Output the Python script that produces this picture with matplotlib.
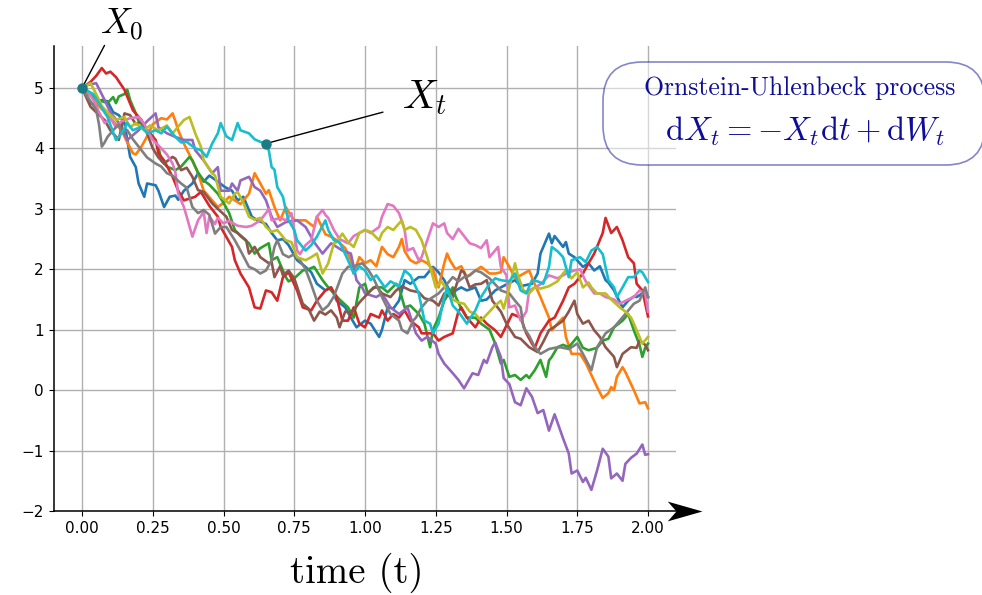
import matplotlib
matplotlib.use("Agg")
import matplotlib.pyplot as plt
from matplotlib.path import Path
from matplotlib.patches import FancyBboxPatch

plt.rcParams['mathtext.fontset'] = 'cm'

# ten sample paths (time, value)
blue_t = [0, 0.03, 0.05, 0.07, 0.09, 0.11, 0.13, 0.15, 0.17, 0.19, 0.20, 0.22, 0.23, 0.26, 0.27, 0.29, 0.31, 0.33, 0.34, 0.36, 0.39, 0.41, 0.43, 0.45, 0.48, 0.505, 0.53, 0.55, 0.57, 0.60, 0.62, 0.65, 0.67, 0.69, 0.71, 0.73, 0.76, 0.79, 0.81, 0.83, 0.86, 0.88, 0.90, 0.93, 0.95, 0.97, 1.0, 1.02, 1.05, 1.06, 1.08, 1.10, 1.12, 1.14, 1.16, 1.19, 1.21, 1.24, 1.26, 1.28, 1.31, 1.32, 1.34, 1.36, 1.39, 1.41, 1.43, 1.46, 1.48, 1.50, 1.53, 1.55, 1.59, 1.61, 1.62, 1.64, 1.65, 1.66, 1.67, 1.70, 1.71, 1.72, 1.74, 1.77, 1.79, 1.81, 1.83, 1.85, 1.86, 1.88, 1.89, 1.91, 1.93, 1.95, 1.96, 1.98, 2.0]
blue_x = [5.0, 4.75, 4.7, 4.8, 4.78, 4.6, 4.55, 4.42, 3.86, 3.69, 3.42, 3.2, 3.42, 3.39, 3.3, 3.03, 3.2, 3.22, 3.15, 3.3, 3.42, 3.59, 3.45, 3.55, 3.45, 3.36, 3.3, 3.14, 3.2, 2.87, 2.81, 2.75, 2.6, 2.48, 2.5, 2.4, 2.15, 2.04, 1.95, 1.76, 1.65, 1.7, 1.48, 1.37, 1.2, 1.04, 1.15, 1.1, 0.88, 1.0, 1.37, 1.35, 1.48, 1.82, 1.76, 1.87, 1.87, 2.04, 1.95, 1.82, 1.54, 1.65, 1.7, 1.65, 1.7, 1.48, 1.5, 1.65, 1.7, 1.75, 1.82, 1.72, 1.76, 1.93, 2.26, 2.48, 2.59, 2.43, 2.55, 2.37, 2.45, 2.26, 2.2, 2.04, 2.1, 1.98, 2.05, 1.82, 1.78, 1.65, 1.55, 1.37, 1.48, 1.55, 1.54, 1.6, 1.54]

orange_t = [0, 0.02, 0.04, 0.06, 0.08, 0.10, 0.12, 0.14, 0.16, 0.18, 0.19, 0.21, 0.23, 0.25, 0.28, 0.30, 0.32, 0.33, 0.34, 0.36, 0.39, 0.41, 0.43, 0.46, 0.48, 0.50, 0.52, 0.54, 0.56, 0.59, 0.61, 0.63, 0.65, 0.66, 0.68, 0.70, 0.72, 0.73, 0.75, 0.79, 0.82, 0.83, 0.86, 0.88, 0.90, 0.93, 0.95, 0.96, 0.98, 1.0, 1.02, 1.04, 1.06, 1.08, 1.10, 1.12, 1.13, 1.14, 1.16, 1.18, 1.20, 1.22, 1.24, 1.26, 1.28, 1.29, 1.30, 1.32, 1.34, 1.36, 1.39, 1.41, 1.44, 1.46, 1.48, 1.49, 1.51, 1.53, 1.55, 1.58, 1.60, 1.62, 1.65, 1.66, 1.68, 1.70, 1.71, 1.73, 1.76, 1.78, 1.80, 1.82, 1.84, 1.86, 1.87, 1.88, 1.89, 1.91, 1.92, 1.95, 1.97, 1.99, 2.0]
orange_x = [5.0, 4.9, 4.85, 4.7, 4.6, 4.5, 4.4, 4.3, 4.1, 3.92, 3.9, 4.03, 4.2, 4.4, 4.5, 4.48, 4.58, 4.45, 4.3, 4.08, 3.8, 3.59, 3.3, 3.14, 3.03, 3.1, 3.2, 3.14, 3.08, 3.25, 3.59, 3.42, 3.25, 3.31, 3.03, 2.81, 3.03, 2.95, 2.81, 2.81, 2.7, 2.87, 2.58, 2.54, 2.48, 2.35, 2.15, 1.93, 2.2, 2.1, 2.15, 2.05, 2.37, 2.25, 2.2, 2.37, 2.5, 2.3, 2.15, 2.1, 2.15, 2.1, 2.0, 1.7, 2.1, 2.26, 2.15, 2.0, 2.05, 1.87, 1.98, 2.04, 1.93, 1.93, 1.95, 2.2, 2.04, 1.85, 1.9, 1.98, 1.75, 1.54, 1.2, 0.99, 1.1, 1.2, 0.88, 0.6, 0.6, 0.45, 0.25, 0.05, -0.13, -0.05, 0.05, 0.0, 0.22, 0.38, 0.3, 0.0, -0.22, -0.2, -0.3]

green_t = [0, 0.02, 0.04, 0.06, 0.09, 0.11, 0.12, 0.13, 0.15, 0.16, 0.17, 0.19, 0.20, 0.22, 0.25, 0.27, 0.28, 0.30, 0.33, 0.35, 0.38, 0.39, 0.41, 0.43, 0.45, 0.48, 0.50, 0.52, 0.54, 0.56, 0.59, 0.61, 0.63, 0.66, 0.67, 0.69, 0.72, 0.73, 0.75, 0.78, 0.80, 0.82, 0.85, 0.87, 0.89, 0.91, 0.94, 0.96, 0.98, 1.0, 1.01, 1.03, 1.06, 1.08, 1.11, 1.12, 1.14, 1.16, 1.19, 1.21, 1.23, 1.24, 1.26, 1.28, 1.31, 1.32, 1.34, 1.36, 1.39, 1.41, 1.44, 1.46, 1.48, 1.49, 1.51, 1.53, 1.55, 1.57, 1.58, 1.60, 1.62, 1.64, 1.65, 1.66, 1.68, 1.70, 1.72, 1.75, 1.77, 1.79, 1.82, 1.84, 1.86, 1.88, 1.91, 1.93, 1.95, 1.97, 1.98, 1.99, 2.0]
green_x = [5.0, 4.95, 4.85, 4.8, 4.75, 4.85, 4.75, 4.86, 4.9, 4.97, 4.8, 4.58, 4.45, 4.36, 4.2, 4.03, 3.8, 3.7, 3.64, 3.7, 3.86, 3.8, 3.6, 3.47, 3.4, 3.25, 3.1, 2.93, 2.65, 2.55, 2.43, 2.26, 2.35, 2.43, 2.15, 2.2, 1.87, 1.8, 1.85, 1.98, 2.0, 2.04, 1.82, 1.7, 1.6, 1.5, 1.37, 1.2, 1.7, 1.76, 1.6, 1.7, 1.7, 1.62, 1.76, 1.7, 1.37, 1.4, 1.26, 1.1, 0.71, 1.0, 1.2, 1.48, 1.7, 1.55, 1.35, 1.2, 1.2, 1.1, 1.0, 0.77, 0.44, 0.5, 0.22, 0.25, 0.17, 0.25, 0.2, 0.33, 0.5, 0.22, 0.49, 0.55, 0.71, 0.75, 0.71, 0.88, 0.7, 0.66, 0.7, 0.82, 0.85, 1.04, 1.15, 1.26, 0.99, 0.75, 0.55, 0.7, 0.77]

red_t = [0, 0.03, 0.05, 0.07, 0.085, 0.10, 0.12, 0.15, 0.18, 0.21, 0.23, 0.26, 0.27, 0.29, 0.32, 0.34, 0.36, 0.40, 0.42, 0.45, 0.48, 0.49, 0.53, 0.54, 0.56, 0.59, 0.61, 0.63, 0.65, 0.67, 0.69, 0.71, 0.73, 0.76, 0.78, 0.81, 0.83, 0.86, 0.88, 0.90, 0.92, 0.94, 0.96, 0.98, 1.0, 1.02, 1.05, 1.06, 1.08, 1.10, 1.12, 1.14, 1.16, 1.19, 1.20, 1.24, 1.26, 1.28, 1.31, 1.33, 1.34, 1.36, 1.39, 1.41, 1.43, 1.46, 1.48, 1.52, 1.55, 1.57, 1.59, 1.60, 1.62, 1.65, 1.67, 1.70, 1.72, 1.74, 1.77, 1.79, 1.81, 1.84, 1.85, 1.87, 1.89, 1.91, 1.93, 1.95, 1.96, 1.98, 2.0]
red_x = [5.0, 5.1, 5.2, 5.33, 5.24, 5.27, 5.18, 4.97, 4.63, 4.47, 4.3, 4.14, 3.92, 3.8, 3.53, 3.3, 3.14, 3.2, 3.28, 3.05, 2.87, 2.7, 2.37, 2.15, 1.93, 1.7, 1.37, 1.35, 1.65, 1.62, 1.48, 1.87, 1.95, 1.65, 1.37, 1.32, 1.48, 1.65, 1.7, 1.54, 1.15, 1.15, 1.37, 1.1, 1.04, 1.26, 1.2, 1.32, 1.15, 1.26, 1.2, 1.32, 1.15, 1.04, 0.94, 0.94, 0.82, 0.88, 0.94, 1.3, 1.37, 1.2, 1.04, 1.2, 1.1, 0.99, 0.88, 1.26, 1.2, 0.94, 0.77, 0.7, 0.94, 1.15, 1.2, 1.48, 1.7, 1.76, 1.93, 2.1, 2.26, 2.6, 2.85, 2.6, 2.7, 2.48, 2.2, 2.1, 1.76, 1.65, 1.22]

purple_t = [0, 0.02, 0.05, 0.08, 0.10, 0.13, 0.16, 0.20, 0.23, 0.26, 0.27, 0.30, 0.33, 0.36, 0.39, 0.40, 0.43, 0.46, 0.48, 0.49, 0.52, 0.53, 0.55, 0.56, 0.59, 0.61, 0.63, 0.65, 0.67, 0.69, 0.72, 0.76, 0.79, 0.82, 0.85, 0.88, 0.92, 0.95, 0.97, 0.99, 1.0, 1.04, 1.06, 1.09, 1.12, 1.15, 1.18, 1.20, 1.22, 1.25, 1.26, 1.28, 1.31, 1.33, 1.35, 1.38, 1.40, 1.42, 1.43, 1.45, 1.46, 1.48, 1.49, 1.51, 1.53, 1.55, 1.57, 1.59, 1.61, 1.63, 1.65, 1.67, 1.70, 1.72, 1.73, 1.75, 1.77, 1.78, 1.80, 1.82, 1.84, 1.86, 1.87, 1.89, 1.91, 1.92, 1.94, 1.96, 1.98, 1.99, 2.0]
purple_x = [5.0, 5.05, 5.08, 4.8, 4.6, 4.42, 4.14, 4.3, 4.45, 4.58, 4.35, 4.25, 4.19, 4.14, 4.14, 3.97, 3.8, 3.59, 3.69, 3.3, 3.3, 3.42, 3.3, 3.47, 3.53, 3.36, 3.3, 3.14, 2.87, 2.7, 2.78, 2.81, 2.7, 2.45, 2.26, 2.43, 2.31, 2.26, 1.82, 1.7, 1.6, 1.54, 1.6, 1.37, 1.26, 1.37, 0.94, 0.82, 0.88, 0.77, 0.6, 0.44, 0.28, 0.17, 0.03, 0.28, 0.25, 0.5, 0.45, 0.71, 0.79, 0.55, 0.2, 0.1, -0.2, -0.25, 0.03, -0.11, -0.38, -0.33, -0.67, -0.4, -0.8, -1.05, -1.38, -1.33, -1.52, -1.45, -1.65, -1.33, -0.97, -1.1, -1.46, -1.38, -1.5, -1.22, -1.12, -1.05, -0.9, -1.07, -1.06]

brown_t = [0, 0.03, 0.05, 0.08, 0.10, 0.13, 0.15, 0.17, 0.19, 0.21, 0.23, 0.25, 0.27, 0.29, 0.32, 0.33, 0.35, 0.37, 0.39, 0.41, 0.43, 0.46, 0.48, 0.51, 0.53, 0.55, 0.58, 0.59, 0.61, 0.63, 0.66, 0.67, 0.68, 0.70, 0.71, 0.73, 0.75, 0.78, 0.80, 0.82, 0.84, 0.86, 0.88, 0.90, 0.91, 0.93, 0.95, 0.96, 0.98, 1.0, 1.02, 1.04, 1.06, 1.09, 1.11, 1.13, 1.16, 1.19, 1.21, 1.24, 1.26, 1.28, 1.30, 1.32, 1.34, 1.35, 1.37, 1.39, 1.41, 1.43, 1.45, 1.48, 1.50, 1.53, 1.55, 1.58, 1.61, 1.63, 1.65, 1.67, 1.70, 1.72, 1.74, 1.75, 1.77, 1.79, 1.81, 1.83, 1.85, 1.88, 1.89, 1.91, 1.94, 1.96, 1.97, 1.99, 2.0]
brown_x = [5.0, 4.69, 4.6, 4.47, 4.3, 4.14, 4.58, 4.55, 4.4, 4.45, 4.25, 4.0, 3.85, 3.75, 3.86, 3.83, 3.64, 3.68, 3.53, 3.31, 3.28, 3.09, 3.0, 2.87, 2.65, 2.6, 2.48, 2.26, 2.37, 2.2, 2.1, 2.12, 1.87, 2.05, 1.9, 1.98, 1.85, 1.43, 1.35, 1.15, 1.3, 1.25, 1.32, 1.2, 1.04, 1.3, 1.28, 1.32, 1.45, 1.55, 1.65, 1.72, 1.6, 1.54, 1.65, 1.72, 1.65, 1.62, 1.52, 1.48, 1.4, 1.6, 1.55, 1.7, 1.98, 1.95, 1.7, 1.75, 1.76, 1.82, 1.48, 1.3, 1.1, 0.88, 0.85, 0.71, 0.63, 0.8, 0.99, 1.05, 1.15, 1.3, 1.48, 1.26, 1.1, 1.15, 0.99, 0.88, 0.71, 0.55, 0.38, 0.6, 0.71, 0.7, 0.82, 0.75, 0.66]

pink_t = [0, 0.02, 0.04, 0.06, 0.08, 0.10, 0.12, 0.14, 0.17, 0.20, 0.22, 0.25, 0.27, 0.30, 0.32, 0.33, 0.34, 0.36, 0.37, 0.39, 0.41, 0.43, 0.44, 0.45, 0.47, 0.48, 0.50, 0.52, 0.55, 0.58, 0.60, 0.63, 0.65, 0.66, 0.67, 0.70, 0.72, 0.74, 0.76, 0.77, 0.79, 0.81, 0.83, 0.85, 0.86, 0.87, 0.89, 0.91, 0.94, 0.96, 0.98, 1.0, 1.02, 1.05, 1.06, 1.08, 1.10, 1.12, 1.13, 1.14, 1.15, 1.17, 1.19, 1.20, 1.22, 1.24, 1.26, 1.28, 1.29, 1.31, 1.33, 1.35, 1.37, 1.39, 1.41, 1.43, 1.44, 1.47, 1.48, 1.50, 1.51, 1.53, 1.55, 1.57, 1.58, 1.60, 1.62, 1.65, 1.68, 1.70, 1.72, 1.74, 1.76, 1.78, 1.81, 1.83, 1.85, 1.88, 1.90, 1.93, 1.95, 1.97, 1.99, 2.0]
pink_x = [5.0, 4.95, 4.8, 4.6, 4.42, 4.5, 4.35, 4.45, 4.5, 4.52, 4.4, 4.14, 4.05, 3.9, 3.75, 3.6, 3.25, 3.03, 2.87, 2.54, 2.81, 2.95, 2.6, 2.87, 2.75, 2.85, 2.76, 2.8, 2.72, 2.7, 2.72, 2.81, 2.93, 3.0, 2.81, 2.85, 2.81, 2.93, 2.31, 2.25, 2.4, 2.48, 2.87, 2.98, 2.9, 2.85, 2.65, 2.5, 2.43, 2.55, 2.6, 2.65, 2.6, 2.7, 2.87, 3.08, 3.05, 2.93, 2.8, 2.65, 2.31, 2.35, 2.15, 2.2, 2.48, 2.76, 2.7, 2.76, 2.6, 2.5, 2.67, 2.55, 2.43, 2.4, 2.35, 2.48, 2.2, 2.37, 2.04, 1.9, 1.37, 1.4, 1.15, 1.3, 1.65, 1.7, 1.75, 1.9, 1.85, 1.9, 1.95, 1.98, 2.0, 1.8, 1.6, 1.6, 1.54, 1.5, 1.43, 1.5, 1.54, 1.65, 1.6, 1.3]

gray_t = [0, 0.02, 0.05, 0.06, 0.07, 0.08, 0.09, 0.11, 0.13, 0.14, 0.16, 0.18, 0.21, 0.23, 0.26, 0.28, 0.30, 0.32, 0.35, 0.37, 0.39, 0.41, 0.43, 0.45, 0.47, 0.49, 0.51, 0.54, 0.56, 0.59, 0.61, 0.63, 0.65, 0.67, 0.68, 0.69, 0.71, 0.73, 0.75, 0.77, 0.79, 0.81, 0.83, 0.85, 0.87, 0.89, 0.92, 0.94, 0.96, 0.99, 1.01, 1.03, 1.04, 1.06, 1.08, 1.09, 1.12, 1.13, 1.15, 1.17, 1.18, 1.20, 1.22, 1.24, 1.26, 1.28, 1.31, 1.33, 1.35, 1.37, 1.39, 1.41, 1.44, 1.46, 1.48, 1.51, 1.53, 1.55, 1.56, 1.58, 1.60, 1.62, 1.65, 1.67, 1.69, 1.72, 1.75, 1.77, 1.80, 1.82, 1.85, 1.88, 1.90, 1.92, 1.95, 1.97, 1.99, 2.0]
gray_x = [5.0, 4.85, 4.64, 4.4, 4.03, 4.1, 4.19, 4.3, 4.4, 4.25, 4.3, 4.15, 3.97, 3.85, 3.75, 3.7, 3.59, 3.55, 3.42, 3.35, 3.03, 2.93, 2.98, 2.9, 2.59, 2.7, 2.7, 2.48, 2.31, 2.04, 2.0, 1.93, 1.98, 2.15, 2.37, 2.48, 2.25, 2.2, 2.25, 2.15, 2.0, 1.75, 1.48, 1.32, 1.4, 1.55, 1.93, 2.04, 2.05, 2.1, 2.0, 1.85, 1.75, 1.54, 1.35, 1.26, 1.15, 1.0, 0.94, 1.15, 1.2, 1.37, 1.48, 1.54, 1.6, 1.7, 1.87, 1.8, 1.87, 1.9, 1.98, 1.95, 1.85, 1.75, 1.65, 1.6, 1.48, 1.37, 1.04, 0.9, 0.71, 0.6, 0.68, 0.7, 0.71, 0.68, 0.77, 0.6, 0.33, 0.71, 0.94, 1.04, 1.15, 1.26, 1.43, 1.48, 1.7, 1.54]

olive_t = [0, 0.02, 0.03, 0.05, 0.07, 0.09, 0.12, 0.15, 0.17, 0.19, 0.22, 0.24, 0.27, 0.30, 0.32, 0.34, 0.36, 0.38, 0.40, 0.42, 0.43, 0.46, 0.47, 0.49, 0.52, 0.54, 0.55, 0.57, 0.59, 0.61, 0.63, 0.65, 0.67, 0.69, 0.72, 0.74, 0.76, 0.79, 0.81, 0.83, 0.85, 0.87, 0.89, 0.90, 0.92, 0.94, 0.96, 0.98, 1.0, 1.02, 1.05, 1.06, 1.08, 1.10, 1.13, 1.14, 1.16, 1.18, 1.20, 1.22, 1.24, 1.25, 1.27, 1.29, 1.31, 1.33, 1.35, 1.37, 1.39, 1.41, 1.43, 1.46, 1.48, 1.49, 1.51, 1.53, 1.54, 1.56, 1.58, 1.60, 1.62, 1.65, 1.68, 1.70, 1.71, 1.73, 1.75, 1.77, 1.79, 1.80, 1.82, 1.85, 1.87, 1.90, 1.92, 1.94, 1.95, 1.97, 1.98, 2.0]
olive_x = [5.0, 5.05, 5.08, 4.9, 4.7, 4.6, 4.47, 4.52, 4.35, 4.42, 4.3, 4.38, 4.3, 4.38, 4.25, 4.36, 4.47, 4.52, 4.25, 4.03, 3.8, 3.59, 3.55, 3.2, 3.09, 3.25, 3.28, 3.1, 2.87, 2.82, 2.85, 2.7, 2.62, 2.65, 2.48, 2.45, 2.2, 2.15, 2.2, 2.26, 1.93, 2.1, 2.43, 2.45, 2.59, 2.45, 2.37, 2.6, 2.65, 2.62, 2.48, 2.6, 2.7, 2.65, 2.81, 2.65, 2.7, 2.65, 2.48, 2.2, 1.87, 1.7, 1.8, 1.65, 1.5, 1.45, 1.43, 1.3, 1.26, 1.15, 1.25, 1.4, 1.48, 1.35, 1.7, 2.1, 1.9, 1.65, 1.6, 1.7, 1.68, 1.72, 1.8, 1.93, 1.98, 1.85, 1.95, 1.7, 1.78, 1.7, 1.6, 1.6, 1.5, 1.37, 1.3, 1.2, 1.1, 0.88, 0.77, 0.88]

cyan_t = [0, 0.02, 0.04, 0.06, 0.09, 0.12, 0.14, 0.16, 0.18, 0.21, 0.23, 0.26, 0.28, 0.30, 0.33, 0.35, 0.37, 0.40, 0.42, 0.44, 0.46, 0.48, 0.49, 0.51, 0.53, 0.55, 0.56, 0.59, 0.61, 0.63, 0.65, 0.66, 0.67, 0.68, 0.69, 0.71, 0.72, 0.73, 0.75, 0.76, 0.79, 0.81, 0.83, 0.86, 0.87, 0.89, 0.91, 0.94, 0.96, 0.98, 1.0, 1.02, 1.04, 1.07, 1.09, 1.12, 1.14, 1.16, 1.19, 1.21, 1.23, 1.24, 1.26, 1.28, 1.29, 1.31, 1.33, 1.36, 1.39, 1.41, 1.44, 1.46, 1.48, 1.51, 1.53, 1.55, 1.57, 1.59, 1.61, 1.63, 1.65, 1.66, 1.68, 1.70, 1.72, 1.73, 1.76, 1.78, 1.80, 1.82, 1.84, 1.86, 1.88, 1.89, 1.91, 1.93, 1.95, 1.97, 1.98, 2.0]
cyan_x = [5.0, 4.95, 4.9, 4.75, 4.52, 4.14, 4.25, 4.42, 4.3, 4.36, 4.25, 4.3, 4.25, 4.36, 4.19, 4.1, 4.11, 4.0, 3.97, 3.86, 4.08, 4.25, 4.42, 4.2, 4.14, 4.42, 4.3, 4.25, 4.15, 4.11, 4.08, 3.97, 3.69, 3.65, 3.36, 3.2, 2.98, 2.81, 2.65, 2.48, 2.31, 2.4, 2.54, 2.81, 2.65, 2.48, 2.45, 2.15, 1.93, 2.05, 1.98, 1.82, 1.9, 1.7, 1.8, 1.72, 1.98, 1.9, 1.6, 1.15, 1.1, 0.94, 1.1, 1.54, 1.7, 1.4, 1.3, 1.1, 1.32, 1.54, 1.76, 1.85, 1.82, 1.8, 1.93, 1.65, 1.6, 1.82, 1.8, 1.76, 2.04, 2.37, 2.3, 2.2, 1.87, 2.15, 2.2, 2.12, 2.31, 2.37, 2.25, 1.82, 1.7, 1.54, 1.7, 1.87, 1.87, 1.98, 1.95, 1.79]

path_t = [blue_t, orange_t, green_t, red_t, purple_t, brown_t, pink_t, gray_t, olive_t, cyan_t]
path_x = [blue_x, orange_x, green_x, red_x, purple_x, brown_x, pink_x, gray_x, olive_x, cyan_x]

x0_point = (0.0, 5.0)
xt_point = (0.65, 4.08)
x_ticks = [0.0, 0.25, 0.5, 0.75, 1.0, 1.25, 1.5, 1.75, 2.0]
y_ticks = [-2, -1, 0, 1, 2, 3, 4, 5]

fig = plt.figure(figsize=(9.82, 5.95), dpi=100)
ax = fig.add_axes([0.0547, 0.1412, 0.634, 0.782])

for i in range(len(path_t)):
    ax.plot(path_t[i], path_x[i], color='C%d' % i, lw=1.9)

ax.set_xlim(-0.1, 2.1)
ax.set_ylim(-2.0, 5.7)
ax.set_xticks(x_ticks)
ax.set_xticklabels(['%.2f' % v for v in x_ticks])
ax.set_yticks(y_ticks)
ax.tick_params(labelsize=11)
ax.grid(True, color='#b0b0b0', lw=1.0)

for s in ['top', 'right', 'bottom']:
    ax.spines[s].set_visible(False)
ax.spines['left'].set_linewidth(1.1)

# x axis drawn as a line with a stealth arrow head
ax.plot([0, 1.03], [0, 0], color='k', lw=1.1, transform=ax.transAxes, clip_on=False)
head = Path([(0, 0), (-2, 0.57), (-1.5, 0), (-2, -0.57), (0, 0)],
            [Path.MOVETO, Path.LINETO, Path.LINETO, Path.LINETO, Path.CLOSEPOLY])
ax.plot([1.041], [0], marker=head, ms=50, color='k', mew=0,
        transform=ax.transAxes, clip_on=False)

mark_color = '#1a7b87'
ax.plot(*x0_point, 'o', color=mark_color, ms=6.5, zorder=5)
ax.plot(*xt_point, 'o', color=mark_color, ms=6.5, zorder=5)

ax.annotate(r'$X_0$', xy=x0_point, xytext=(0.065, 6.05), fontsize=26,
            va='center', ha='left', annotation_clip=False,
            arrowprops=dict(arrowstyle='-', color='k', lw=1.0,
                            relpos=(0.15, 0.05), shrinkA=0, shrinkB=3))
ax.annotate(r'$X_t$', xy=xt_point, xytext=(1.13, 4.85), fontsize=29,
            va='center', ha='left', annotation_clip=False,
            arrowprops=dict(arrowstyle='-', color='k', lw=1.0,
                            relpos=(0.0, 0.25), shrinkA=12, shrinkB=3))

ax.set_xlabel('time (t)', family='cmr10', fontsize=28)
ax.xaxis.set_label_coords(0.486, -0.133)
ax.xaxis.label.set_verticalalignment('center')

# legend-like box with the process name and its SDE
box = FancyBboxPatch((603 / 982, (595 - 165) / 595), 382 / 982, 103 / 595,
                     boxstyle='round,pad=0,rounding_size=0.04',
                     transform=fig.transFigure, fc='white', ec='#0d0d99',
                     alpha=0.5, lw=1.2, mutation_aspect=982 / 595)
fig.add_artist(box)
fig.text(800 / 982, (595 - 88) / 595, 'Ornstein-Uhlenbeck process', family='cmr10',
         fontsize=18.5, color='#0d0d99', ha='center', va='center')
fig.text(805 / 982, (595 - 131) / 595, r'$\mathrm{d}X_t = -X_t\mathrm{d}t + \mathrm{d}W_t$',
         fontsize=23.5, color='#0d0d99', ha='center', va='center')

fig.savefig('out.png', dpi=100)
